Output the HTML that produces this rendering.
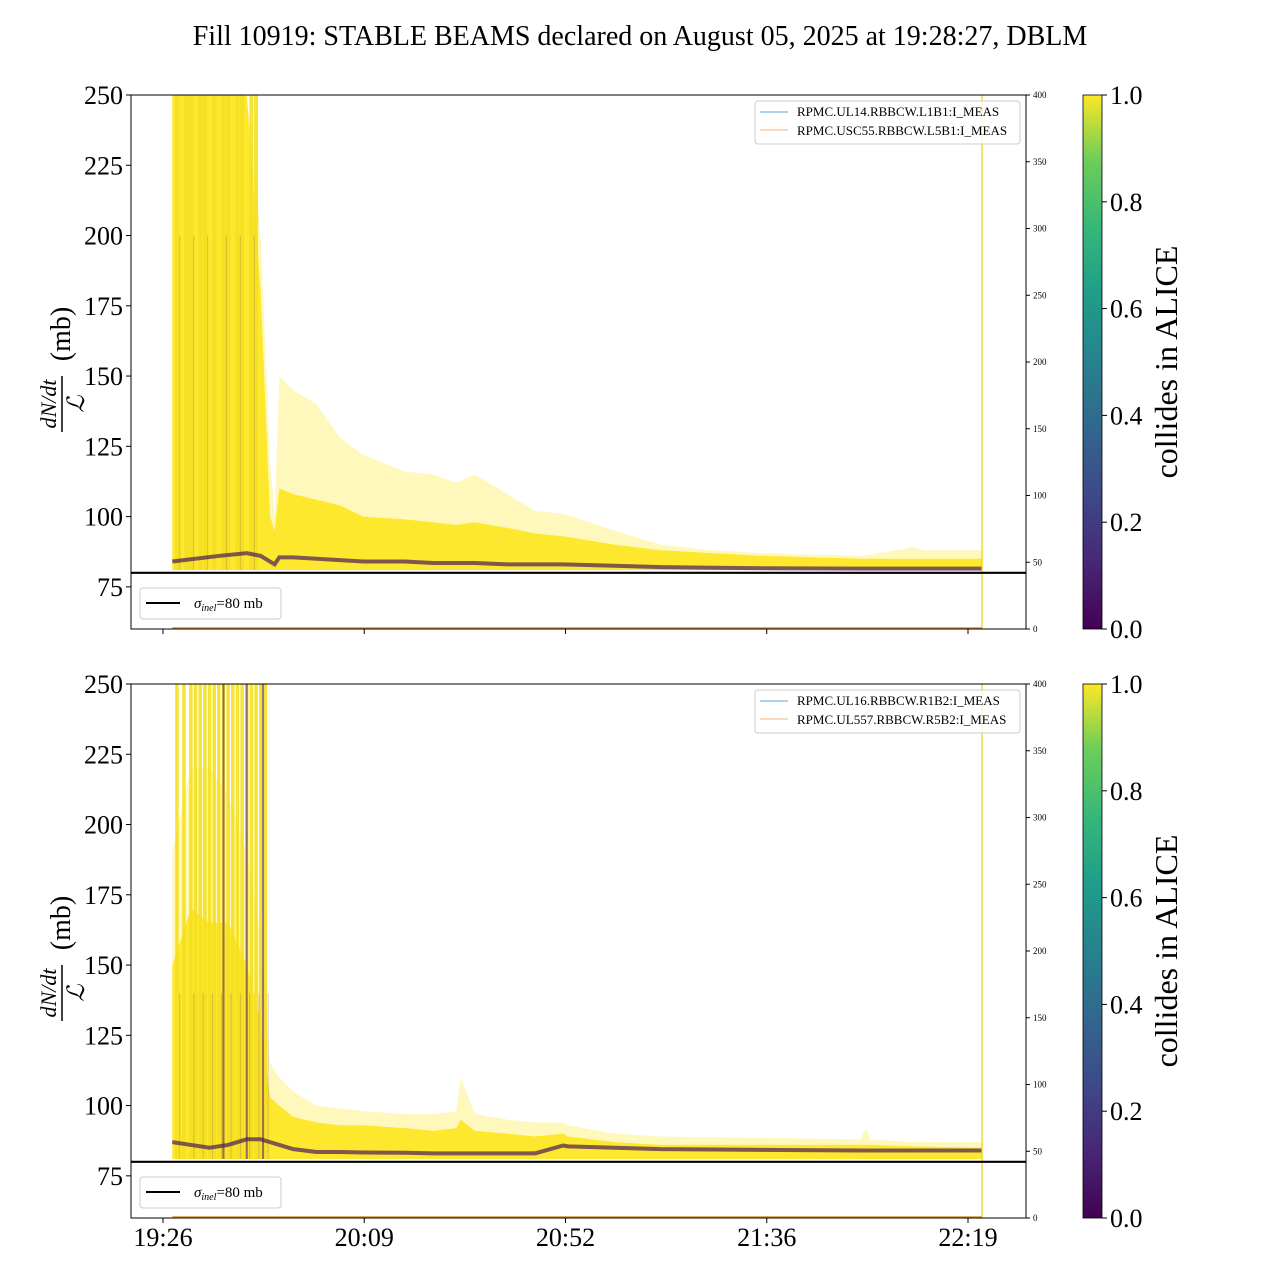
<!DOCTYPE html>
<html><head><meta charset="utf-8"><style>
body{margin:0;background:#fff}
svg text{font-family:"Liberation Serif",serif}
</style></head><body>
<svg id="c" width="1280" height="1280" viewBox="0 0 1280 1280" xmlns="http://www.w3.org/2000/svg">
<defs>
<linearGradient id="vir" x1="0" y1="1" x2="0" y2="0">
<stop offset="0" stop-color="#440154"/><stop offset="0.13" stop-color="#482878"/><stop offset="0.25" stop-color="#3e4989"/><stop offset="0.38" stop-color="#31688e"/><stop offset="0.5" stop-color="#26828e"/><stop offset="0.63" stop-color="#1f9e89"/><stop offset="0.75" stop-color="#35b779"/><stop offset="0.88" stop-color="#6ece58"/><stop offset="1" stop-color="#fde725"/>
</linearGradient>
</defs>
<text x="640" y="45" font-size="28" text-anchor="middle">Fill 10919: STABLE BEAMS declared on August 05, 2025 at 19:28:27, DBLM</text>
<g id="g"></g>
</svg>
<script>
// data (minutes after 19:26)
const xTickLabels = ["19:26","20:09","20:52","21:36","22:19"];
const xTickMin = [0,43.25,86.5,129.75,173];
const yTicks = [75,100,125,150,175,200,225,250];
const rTicks = [0,50,100,150,200,250,300,350,400];
const cbTicks = [0.0,0.2,0.4,0.6,0.8,1.0];
// top panel
const topMin   = [2,12,18,21,23,24,25,28,33,38,43,52,58,63,67,74,80,86,97,107,118,129,150,161,164,176];
const topLight = [250,250,250,200,120,100,150,145,140,128,122,116,115,112,115,108,102,101,95,90,88,87,86,89,88,88];
const topDense = [250,250,250,180,100,95,110,108,106,104,100,99,98,97,98,96,94,93,90,88,87,86,85,85,85,85];
const topBand  = [84,86,87,86,84,83,85.5,85.5,85,84.5,84,84,83.5,83.5,83.5,83,83,83,82.5,82,81.8,81.6,81.5,81.5,81.5,81.5];
const topSpikes = [3,5,6,8,9,11,13,14,16,17,19,20];
// bottom panel
const botMin   = [2,6,10,14,18,21,23,25,28,33,38,43,52,58,63,64,67,74,80,86,87,97,107,150,151,152,161,176];
const botLight = [190,220,220,210,190,160,115,110,105,100,99,98,97,97,98,110,97,95,94,94,93,90,89,88,92,88,87,87];
const botDense = [150,170,165,165,150,130,103,100,96,94,93,93,92,91,92,95,91,90,89,90,89,87,86,86,86,86,85.5,85];
const botBand  = [87,86,85,86,88,88,87,86,84.5,83.5,83.5,83.3,83.2,83,83,83,83,83,83,85.8,85.5,85,84.5,84,84,84,84,84];
const botSpikesY = [3,4.5,6,7,8,9,10,11,12,13,14,15,16,17,18,19,20,21,22];
const botSpikesP = [13,18,21.5];

const NS="http://www.w3.org/2000/svg";
const g=document.getElementById('g');
function mk(tag,attrs,parent){const e=document.createElementNS(NS,tag);for(const k in attrs)e.setAttribute(k,attrs[k]);(parent||g).appendChild(e);return e;}
const X0=131,X1=1026;
function xs(m){return 163+m*201.25/43.25;}
function panel(top,mins,light,dense,band,spikesY,spikesP,names,idx){
  const H=534;
  const ys=v=>top+(250-v)*H/190;
  const ys0=ys(81);
  const gp=mk('g',{});
  
  
  const clip=mk('clipPath',{id:'cl'+idx},gp);
  mk('rect',{x:X0,y:top,width:X1-X0,height:H},clip);
  const pg=mk('g',{'clip-path':'url(#cl'+idx+')'},gp);
  function poly(arr,fill,op,name){
    let d='M'+xs(mins[0])+','+ys0;
    mins.forEach((m,i)=>{d+=' L'+xs(m)+','+ys(arr[i]);});
    d+=' L'+xs(mins[mins.length-1])+','+ys0+' Z';
    const p=mk('path',{d:d,fill:fill,'fill-opacity':op},pg);
    
    
  }
  poly(light,'#fde725',0.3,'light-envelope');
  poly(dense,'#fde725',0.95,'dense-envelope');
  spikesY.forEach(m=>{const l=mk('line',{x1:xs(m),x2:xs(m),y1:ys0,y2:top,stroke:'#f5e020','stroke-width':idx==2?3.5:4,opacity:0.9},pg);
    });
  spikesP.forEach(m=>{const l=mk('line',{x1:xs(m),x2:xs(m),y1:ys0,y2:top,stroke:'#5a2070','stroke-width':2,opacity:0.6},pg);
    });
  for(let i=0;i<spikesY.length;i+=2){const m=spikesY[i]+0.6;
    const l=mk('line',{x1:xs(m),x2:xs(m),y1:ys0,y2:ys(idx==1?200:140),stroke:'#6a3a60','stroke-width':1,opacity:0.25},pg);
    }
  let d='';
  mins.forEach((m,i)=>{d+=(i?' L':'M')+xs(m)+','+ys(band[i]);});
  const b=mk('path',{d:d,fill:'none',stroke:'#4a1a5a','stroke-width':4,'stroke-opacity':0.7},pg);
  
  const v=mk('line',{x1:982,x2:982,y1:top,y2:top+H,stroke:'#f0d000','stroke-width':1.2},gp);
  
  mk('line',{x1:xs(2),x2:982,y1:top+H-1,y2:top+H-1,stroke:'#e0902a','stroke-width':1.5},gp);
  const s=mk('line',{x1:X0,x2:X1,y1:ys(80),y2:ys(80),stroke:'#000','stroke-width':2.2},gp);
  
  mk('rect',{x:X0,y:top,width:X1-X0,height:H,fill:'none',stroke:'#000','stroke-width':1},gp);
  yTicks.forEach(t=>{const y=ys(t);mk('line',{x1:X0-5,x2:X0,y1:y,y2:y,stroke:'#000'},gp);
    const tx=mk('text',{x:X0-8,y:y+9,'font-size':26,'text-anchor':'end'},gp);tx.textContent=t;
    });
  rTicks.forEach(t=>{const y=top+H-t*H/400;mk('line',{x1:X1,x2:X1+4,y1:y,y2:y,stroke:'#000'},gp);
    const tx=mk('text',{x:X1+7,y:y+3,'font-size':9},gp);tx.textContent=t;
    });
  xTickMin.forEach((m,i)=>{const x=xs(m);mk('line',{x1:x,x2:x,y1:top+H,y2:top+H+5,stroke:'#000'},gp);
    if(idx==2){const tx=mk('text',{x:x,y:top+H+28,'font-size':26,'text-anchor':'middle'},gp);tx.textContent=xTickLabels[i];
    }});
  const yl=mk('g',{transform:'translate(62,'+(top+H/2)+') rotate(-90)'},gp);
  
  let t1=mk('text',{x:-42,y:-6,'font-size':22,'text-anchor':'middle','font-style':'italic'},yl);t1.textContent='dN/dt';
  mk('line',{x1:-70,x2:-14,y1:0,y2:0,stroke:'#000','stroke-width':1.5},yl);
  let t2=mk('text',{x:-42,y:22,'font-size':24,'text-anchor':'middle','font-style':'italic'},yl);t2.textContent='ℒ';
  let t3=mk('text',{x:28,y:8,'font-size':28,'text-anchor':'middle'},yl);t3.textContent='(mb)';
  const lg=mk('g',{},gp);
  mk('rect',{x:755,y:top+6,width:265,height:43,rx:3,fill:'#fff','fill-opacity':0.8,stroke:'#ccc'},lg);
  mk('line',{x1:760,x2:788,y1:top+17,y2:top+17,stroke:'#5aa6dc','stroke-width':1},lg);
  mk('line',{x1:760,x2:788,y1:top+35,y2:top+35,stroke:'#f5b070','stroke-width':1},lg);
  let a=mk('text',{x:797,y:top+21,'font-size':13},lg);a.textContent=names[0];
  let c=mk('text',{x:797,y:top+40,'font-size':13},lg);c.textContent=names[1];
  const sl=mk('g',{},gp);
  mk('rect',{x:140,y:top+493,width:141,height:31,rx:3,fill:'#fff',stroke:'#ccc'},sl);
  mk('line',{x1:146,x2:180,y1:top+508,y2:top+508,stroke:'#000','stroke-width':2},sl);
  let st=mk('text',{x:194,y:top+513,'font-size':15},sl);
  st.innerHTML='<tspan font-style="italic">σ</tspan><tspan font-style="italic" font-size="10" dy="3">inel</tspan><tspan dy="-3">=80 mb</tspan>';
  const cb=mk('g',{},gp);
  mk('rect',{x:1083,y:top,width:19,height:H,fill:'url(#vir)',stroke:'#000','stroke-width':0.8},cb);
  cbTicks.forEach(t=>{const y=top+H-t*H;mk('line',{x1:1102,x2:1107,y1:y,y2:y,stroke:'#000'},cb);
    const tx=mk('text',{x:1110,y:y+9,'font-size':26},cb);tx.textContent=t.toFixed(1);
    });
  const ct=mk('text',{transform:'translate(1177,'+(top+H/2)+') rotate(-90)','font-size':32,'text-anchor':'middle'},cb);
  ct.textContent='collides in ALICE';
  
}
panel(95,topMin,topLight,topDense,topBand,topSpikes,[],["RPMC.UL14.RBBCW.L1B1:I_MEAS","RPMC.USC55.RBBCW.L5B1:I_MEAS"],1);
panel(684,botMin,botLight,botDense,botBand,botSpikesY,botSpikesP,["RPMC.UL16.RBBCW.R1B2:I_MEAS","RPMC.UL557.RBBCW.R5B2:I_MEAS"],2);
</script>
</body></html>
